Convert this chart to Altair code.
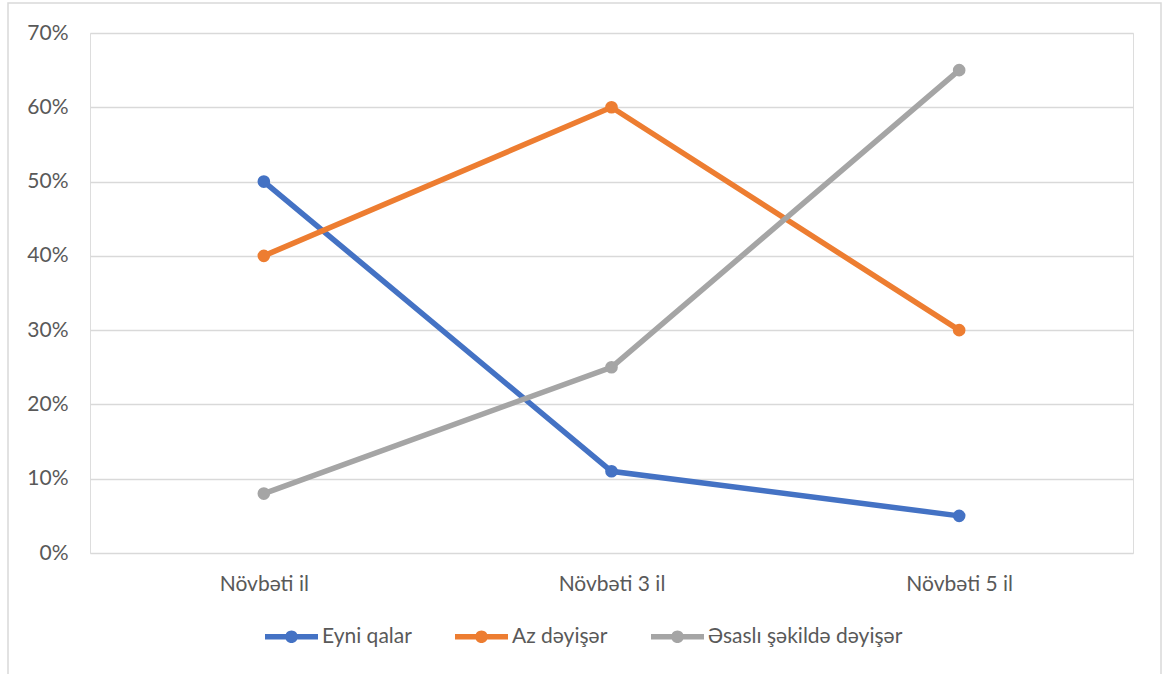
import altair as alt
import pandas as pd

categories = ["Növbəti il", "Növbəti 3 il", "Növbəti 5 il"]
series_names = ["Eyni qalar", "Az dəyişər", "Əsaslı şəkildə dəyişər"]
eyni_qalar = [0.50, 0.11, 0.05]
az_deyiser = [0.40, 0.60, 0.30]
esasli_deyiser = [0.08, 0.25, 0.65]
colors = ["#4472C4", "#ED7D31", "#A5A5A5"]

rows = []
for name, vals in zip(series_names, [eyni_qalar, az_deyiser, esasli_deyiser]):
    for c, v in zip(categories, vals):
        rows.append({"Kateqoriya": c, "Seriya": name, "Dəyər": v})
df = pd.DataFrame(rows)

FONT = "Lato"
TXT = "#595959"
FS = 21

x_enc = alt.X("Kateqoriya:N", sort=categories,
              scale=alt.Scale(type="point", padding=0.5),
              axis=alt.Axis(title=None, labelAngle=0, labelFontSize=FS, labelFont=FONT,
                            labelColor=TXT, labelPadding=20, ticks=False, domain=False,
                            grid=False))
y_enc = alt.Y("Dəyər:Q", scale=alt.Scale(domain=[0, 0.7], nice=False),
              axis=alt.Axis(title=None, format=".0%", values=[0, .1, .2, .3, .4, .5, .6, .7],
                            labelFontSize=FS, labelFont=FONT, labelColor=TXT, labelPadding=22,
                            ticks=False, domain=False, grid=True, gridColor="#D9D9D9",
                            gridWidth=1.3))
color_scale = alt.Scale(domain=series_names, range=colors)

legend_path = ("M-1,-0.1 H1 V0.1 H-1 Z "
               "M-0.24,0 A0.24,0.24 0 1,1 0.24,0 A0.24,0.24 0 1,1 -0.24,0 Z")

legend = alt.Legend(title=None, orient="none", direction="horizontal",
                    legendX=175, legendY=577, columns=3,
                    symbolType=legend_path, symbolSize=2809,
                    symbolStrokeWidth=0, labelFont=FONT, labelLimit=0,
                    labelFontSize=FS, labelColor=TXT, labelOffset=4,
                    columnPadding=43, padding=0, symbolOpacity=1)
color_enc = alt.Color("Seriya:N", scale=color_scale, sort=series_names, legend=legend)

base = alt.Chart(df)
lines = base.mark_line(strokeWidth=5.5).encode(x=x_enc, y=y_enc, color=color_enc)
points = base.mark_point(filled=True, size=160, opacity=1).encode(
    x=x_enc, y=y_enc, color=color_enc)

frame = alt.Chart(pd.DataFrame({"a": [0]})).mark_rect(
    fill=None, stroke="#D9D9D9", strokeWidth=1.5).encode(
    x=alt.value(-82), x2=alt.value(1071), y=alt.value(-30), y2=alt.value(700))

chart = alt.layer(frame, lines, points).properties(
    width=1043, height=520,
    autosize=alt.AutoSizeParams(type="none"),
    padding={"left": 90, "top": 33, "right": 35, "bottom": 121},
).configure_view(stroke=None).configure(background="white")

chart.save("out.html", embed_options={"renderer": "svg", "actions": False})
